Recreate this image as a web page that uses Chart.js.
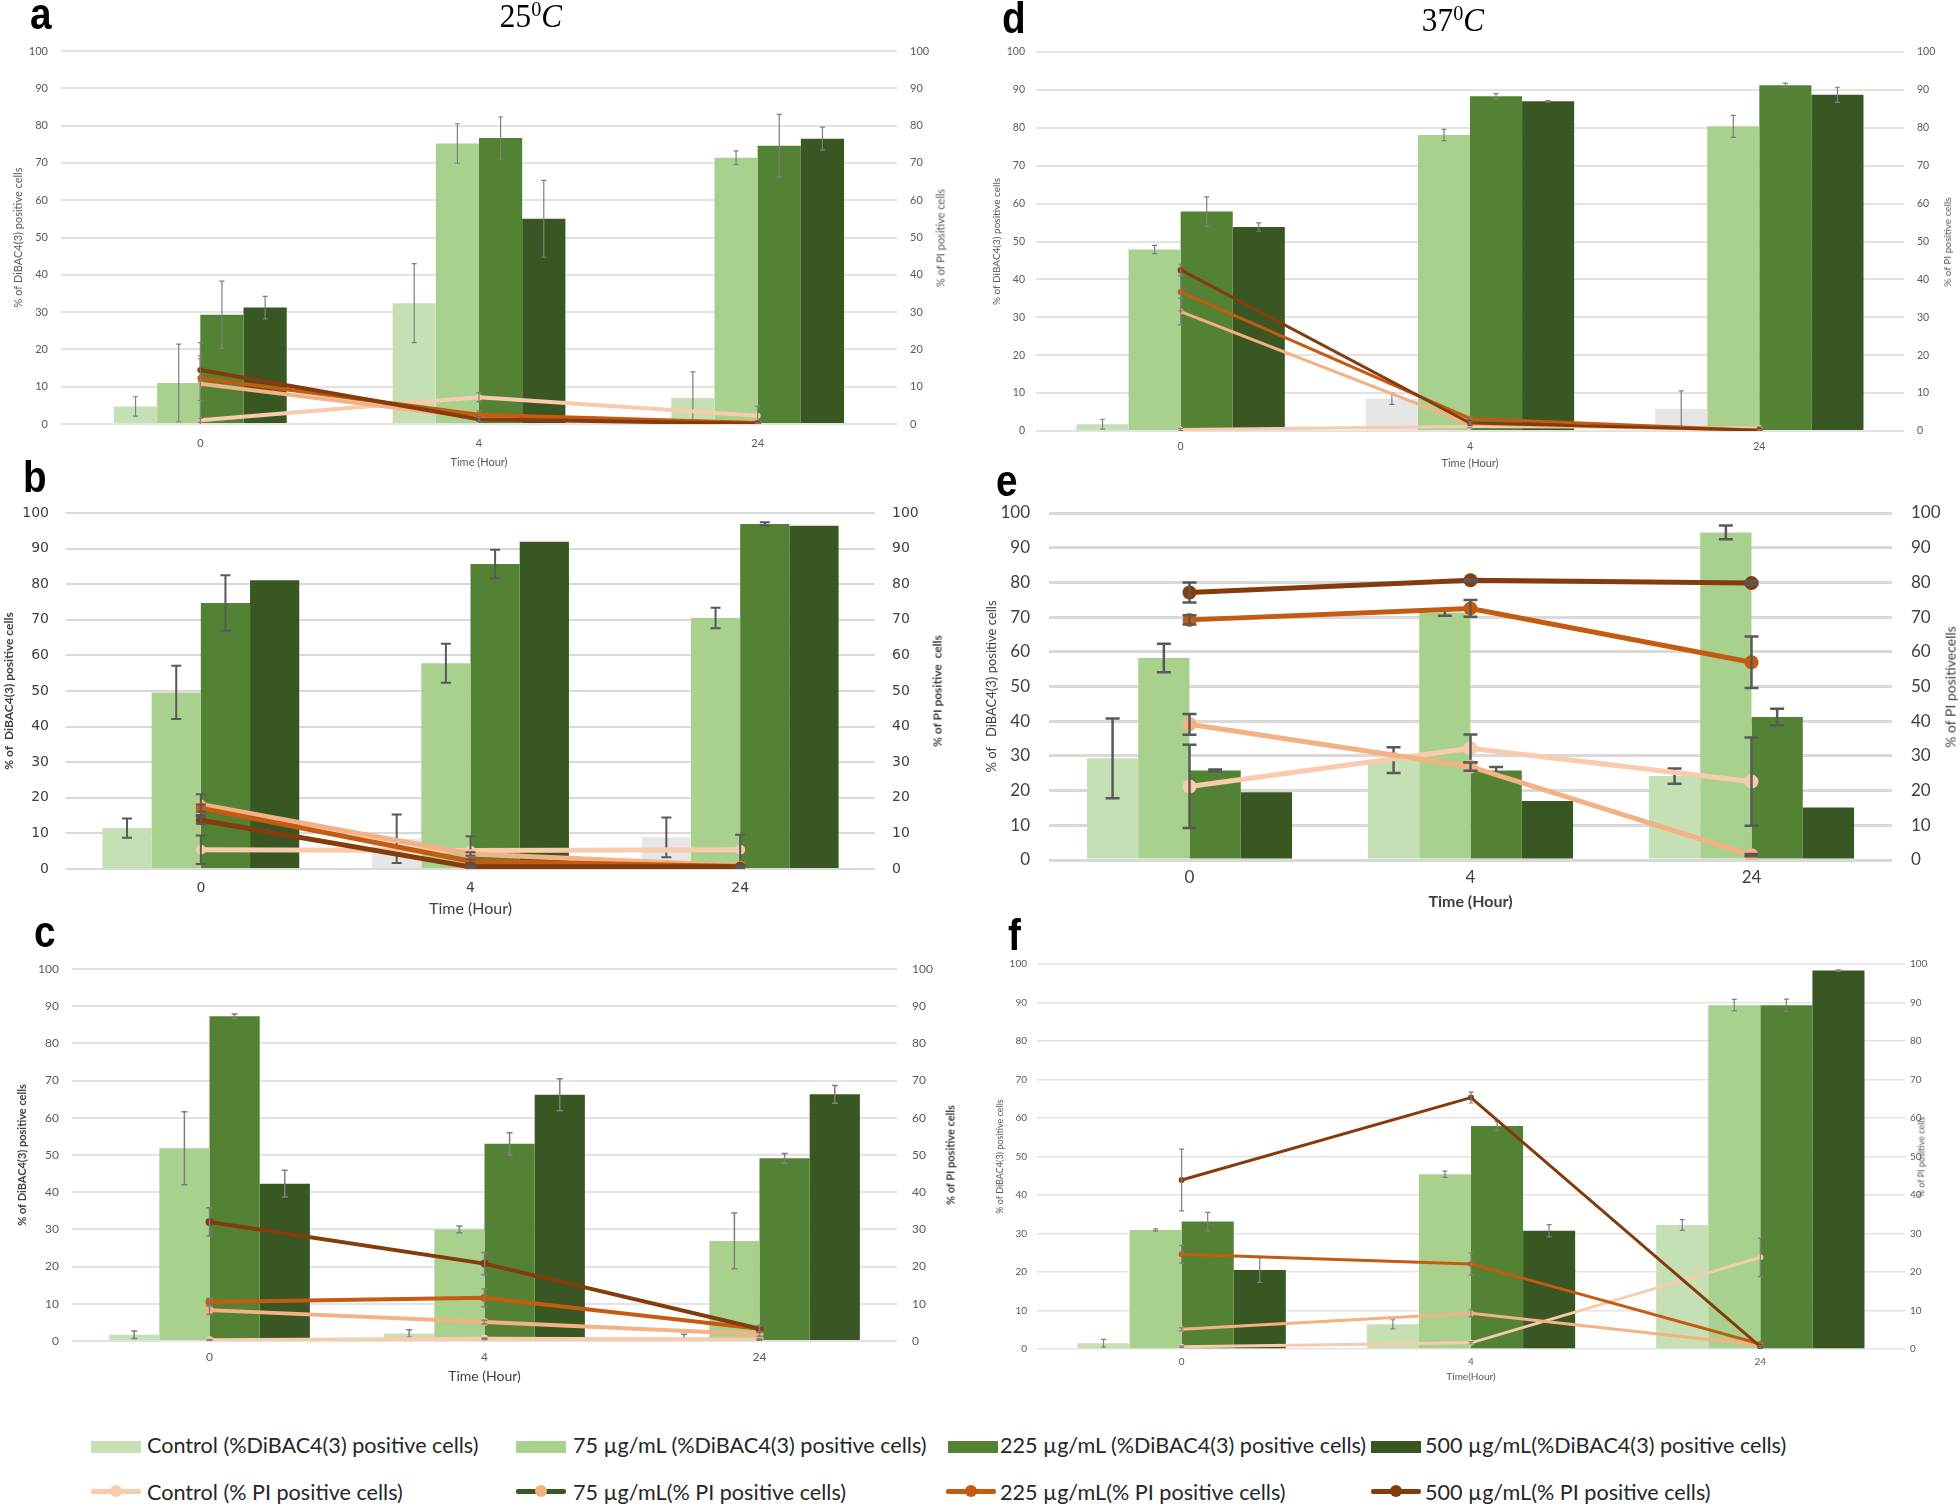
<!DOCTYPE html>
<html>
<head>
<meta charset="utf-8">
<script src="https://cdn.jsdelivr.net/npm/chart.js@4.4.1/dist/chart.umd.min.js"></script>
<style>
html,body{margin:0;padding:0;background:#fff;}
#root{position:relative;width:1960px;height:1504px;overflow:hidden;background:#fff;}
.letter{position:absolute;font-family:"Liberation Sans",Arial,sans-serif;font-weight:bold;font-size:44px;line-height:44px;color:#000;transform-origin:left top;transform:scaleX(0.88);}
.temp{position:absolute;font-family:"Liberation Serif","DejaVu Serif",serif;font-size:34px;line-height:34px;color:#000;white-space:nowrap;transform:translateX(-50%) scaleX(0.92);}
.temp sup{font-size:22px;vertical-align:11px;line-height:0;}
.rtitle{position:absolute;white-space:pre;transform:translate(-50%,-50%) rotate(-90deg);}
.lg-text{position:absolute;font-family:Lato,"Open Sans",sans-serif;font-size:21.6px;line-height:24px;color:#262626;white-space:pre;}
.lg-box{position:absolute;height:12px;width:50px;}
.lg-line{position:absolute;height:5px;width:50px;border-radius:2px;}
.lg-dot{position:absolute;width:12px;height:12px;border-radius:50%;}
</style>
</head>
<body>
<div id="root"></div>
<script>
// ---------------- DATA ----------------
const categories = ['0', '4', '24'];
const diLabels = ['Control (%DiBAC4(3) positive cells)', '75 µg/mL (%DiBAC4(3) positive cells)', '225 µg/mL (%DiBAC4(3) positive cells)', '500 µg/mL(%DiBAC4(3) positive cells)'];
const piLabels = ['Control (% PI positive cells)', '75 µg/mL(% PI positive cells)', '225 µg/mL(% PI positive cells)', '500 µg/mL(% PI positive cells)'];
const temperatureTitles = ['25', '37'];

// Panel a (25 °C)
const aDiBAC    = [[4.7, 32.4, 7.0], [11.0, 75.2, 71.4], [29.3, 76.7, 74.6], [31.2, 55.0, 76.5]];
const aDiBACErr = [[2.6, 10.6, 7.0], [10.4, 5.3, 1.8], [9.0, 5.6, 8.4], [3.0, 10.3, 3.1]];
const aPI       = [[1.0, 7.2, 2.2], [10.8, 1.6, 0.4], [12.3, 2.5, 0.3], [14.5, 1.3, 0.1]];
const aPIErr    = [[0.5, 1.2, 2.5], [11.0, 1.0, 0.5], [6.0, 1.0, 0.3], [3.0, 0.5, 0.2]];

// Panel b (25 °C)
const bDiBAC    = [[11.5, 8.5, 8.9], [49.6, 57.8, 70.5], [74.7, 85.7, 96.9], [81.1, 91.9, 96.4]];
const bDiBACErr = [[2.7, 6.8, 5.6], [7.5, 5.5, 2.9], [7.8, 4.0, 0.5], [0, 0, 0]];
const bPI       = [[5.4, 5.2, 5.4], [18.1, 4.2, 0.9], [17.1, 2.2, 0.7], [13.7, 0.6, 0.6]];
const bPIErr    = [[4.0, 4.0, 4.2], [2.9, 0.5, 0.3], [1.0, 0.5, 0.3], [1.0, 0.3, 0.3]];

// Panel c (25 °C)
const cDiBAC    = [[1.7, 2.0, 0.9], [51.8, 30.0, 26.9], [87.3, 53.0, 49.1], [42.3, 66.2, 66.3]];
const cDiBACErr = [[1.0, 1.0, 0.9], [9.8, 0.9, 7.5], [0.6, 3.0, 1.3], [3.6, 4.3, 2.4]];
const cPI       = [[0.2, 0.6, 0.4], [8.3, 5.1, 1.8], [10.5, 11.6, 3.3], [32.0, 20.8, 3.3]];
const cPIErr    = [[0.2, 0.2, 0.2], [1.2, 0.5, 0.5], [1.0, 2.4, 0.8], [3.8, 3.0, 0.8]];

// Panel d (37 °C)
const dDiBAC    = [[1.8, 8.5, 5.9], [47.9, 78.1, 80.4], [57.9, 88.3, 91.2], [53.8, 87.0, 88.7]];
const dDiBACErr = [[1.3, 1.5, 4.7], [1.1, 1.5, 2.9], [3.9, 0.7, 0.6], [1.1, 0.2, 2.0]];
const dPI       = [[0.4, 1.2, 0.8], [31.5, 1.8, 0.2], [36.7, 3.3, 0.2], [42.5, 2.1, 0.2]];
const dPIErr    = [[0.3, 0.3, 0.3], [3.5, 0.3, 0.2], [5.0, 0.5, 0.2], [1.5, 0.3, 0.2]];

// Panel e (37 °C)
const eDiBAC    = [[29.3, 28.8, 24.2], [58.2, 71.3, 94.4], [25.8, 25.8, 41.2], [19.5, 17.0, 15.1]];
const eDiBACErr = [[11.5, 3.7, 2.2], [4.1, 0.9, 2.0], [0.3, 1.0, 2.4], [0, 0, 0]];
const ePI       = [[21.2, 32.2, 22.6], [39.1, 26.9, 1.4], [69.2, 72.5, 57.0], [77.1, 80.6, 79.8]];
const ePIErr    = [[12.0, 4.0, 12.7], [3.0, 1.2, 0.3], [1.3, 2.4, 7.4], [2.9, 0.3, 0.5]];

// Panel f (37 °C)
const fDiBAC    = [[1.5, 6.4, 32.2], [30.9, 45.4, 89.3], [33.1, 57.9, 89.3], [20.5, 30.7, 98.3]];
const fDiBACErr = [[1.0, 1.2, 1.4], [0.3, 0.8, 1.5], [2.4, 1.2, 1.6], [3.2, 1.6, 0.2]];
const fPI       = [[0.6, 1.6, 23.8], [5.1, 9.3, 1.0], [24.6, 22.1, 1.3], [43.9, 65.3, 0.6]];
const fPIErr    = [[0.2, 0.3, 5.0], [0.4, 0.9, 0.3], [2.3, 2.9, 0.3], [8.0, 1.4, 0.3]];

// ---------------- STYLE ----------------
const BAR_COLORS = ['#c5e0b4', '#a9d18e', '#548235', '#385723'];
const GRAY_BAR = '#e7e6e6';
const LINE_COLORS = ['#f8cbad', '#f4b183', '#c55a11', '#843c0c'];

const panels = [
  { letter:'a', data:[aDiBAC, aDiBACErr, aPI, aPIErr], left:0, width:960, area:[61,51,897,424], cat:0.62, gray:null,
    tickFont:{family:'Lato', size:11}, tickColor:'#595959', padL:13, padR:13, xTickY:443,
    xTitle:'Time (Hour)', xTitleFont:{family:'Lato', size:11}, xTitleY:462,
    lTitle:'% of DiBAC4(3) positive cells', lTitleFont:{family:'Lato', size:11}, ltX:18, titleColor:'#595959',
    rTitle:'% of PI positive cells', rTitleCss:'font:11px Lato;color:#595959;', rtX:940,
    grid:{color:'#e3e3e3', width:2}, lineW:4, pointR:3, err:{color:'#7f7f7f', width:1.2, cap:2.5},
    letterPos:[30,-8] },
  { letter:'b', data:[bDiBAC, bDiBACErr, bPI, bPIErr], left:0, width:960, area:[66,513,875,869], cat:0.73, gray:[false,true,true],
    tickFont:{family:'DejaVu Sans', size:14}, tickColor:'#404040', padL:17, padR:17, xTickY:888,
    xTitle:'Time (Hour)', xTitleFont:{family:'Lato', size:16}, xTitleY:909,
    lTitle:'% of  DiBAC4(3) positive cells', lTitleFont:{family:'Lato', size:12, weight:'bold'}, ltX:9, titleColor:'#404040',
    rTitle:'% of PI positive  cells', rTitleCss:'font:bold 12px Lato;color:#404040;', rtX:937,
    grid:{color:'#d9d9d9', width:2}, lineW:5, pointR:5, err:{color:'#595959', width:2, cap:5},
    letterPos:[23,455] },
  { letter:'c', data:[cDiBAC, cDiBACErr, cPI, cPIErr], left:0, width:960, area:[72,969,897,1341], cat:0.73, gray:null,
    tickFont:{family:'Lato', size:12}, tickColor:'#595959', padL:13, padR:15, xTickY:1357,
    xTitle:'Time (Hour)', xTitleFont:{family:'Lato', size:14}, xTitleY:1376,
    lTitle:'% of DiBAC4(3) positive cells', lTitleFont:{family:'Lato', size:11, weight:'bold'}, ltX:22, titleColor:'#404040',
    rTitle:'% of PI positive cells', rTitleCss:'font:bold 11px Lato;color:#404040;', rtX:950,
    grid:{color:'#e3e3e3', width:2}, lineW:4, pointR:4, err:{color:'#7f7f7f', width:1.5, cap:3},
    letterPos:[34,910] },
  { letter:'d', data:[dDiBAC, dDiBACErr, dPI, dPIErr], left:975, width:985, area:[1036,52,1904,431], cat:0.72, gray:[false,true,true],
    tickFont:{family:'Lato', size:10.5}, tickColor:'#595959', padL:11, padR:13, xTickY:447,
    xTitle:'Time (Hour)', xTitleFont:{family:'Lato', size:11}, xTitleY:463,
    lTitle:'% of DiBAC4(3) positive cells', lTitleFont:{family:'Lato', size:10}, ltX:997, titleColor:'#595959',
    rTitle:'% of PI positive cells', rTitleCss:'font:10px Lato;color:#595959;', rtX:1947,
    grid:{color:'#e3e3e3', width:2}, lineW:3, pointR:3, err:{color:'#7f7f7f', width:1.2, cap:2.5},
    letterPos:[1002,-4] },
  { letter:'e', data:[eDiBAC, eDiBACErr, ePI, ePIErr], left:975, width:985, area:[1049,513,1892,860], cat:0.73, gray:null,
    tickFont:{family:'Lato', size:17}, tickColor:'#404040', padL:19, padR:19, xTickY:878,
    xTitle:'Time (Hour)', xTitleFont:{family:'Lato', size:16, weight:'bold'}, xTitleY:902,
    lTitle:'% of   DiBAC4(3) positive cells', lTitleFont:{family:'Lato', size:13}, ltX:992, titleColor:'#404040',
    rTitle:'% of PI positivecells', rTitleCss:'font:14px Lato;color:#404040;', rtX:1950,
    grid:{color:'#d9d9d9', width:3}, lineW:5, pointR:7, err:{color:'#595959', width:2.5, cap:7},
    letterPos:[996,459] },
  { letter:'f', data:[fDiBAC, fDiBACErr, fPI, fPIErr], left:975, width:985, area:[1037,964,1905,1349], cat:0.72, gray:null,
    tickFont:{family:'Lato', size:10}, tickColor:'#595959', padL:10, padR:5, xTickY:1362,
    xTitle:'Time(Hour)', xTitleFont:{family:'Lato', size:10}, xTitleY:1377,
    lTitle:'% of DiBAC4(3) positive cells', lTitleFont:{family:'Lato', size:9}, ltX:1000, titleColor:'#595959',
    rTitle:'% of PI positive cells', rTitleCss:'font:9px Lato;color:#595959;', rtX:1921,
    grid:{color:'#e3e3e3', width:1.5}, lineW:3, pointR:3, err:{color:'#7f7f7f', width:1.2, cap:2.5},
    letterPos:[1008,913] }
];

// ---------------- PLUGIN: error bars ----------------
const errPlugin = {
  id: 'errBars',
  afterDatasetDraw(chart, args, opts) {
    const ds = chart.data.datasets[args.index];
    if (!ds.errors) return;
    const meta = args.meta;
    const ys = chart.scales[meta.yAxisID];
    const ctx = chart.ctx;
    const area = chart.chartArea;
    ctx.save();
    ctx.beginPath();
    ctx.rect(area.left, area.top - 10, area.right - area.left, area.bottom - area.top + 10);
    ctx.clip();
    ctx.strokeStyle = opts.color;
    ctx.lineWidth = opts.width;
    meta.data.forEach((el, j) => {
      const e = ds.errors[j];
      if (!e) return;
      const v = ds.data[j];
      const x = el.x;
      const yTop = ys.getPixelForValue(v + e);
      const yBot = ys.getPixelForValue(v - e);
      ctx.beginPath();
      ctx.moveTo(x, yTop); ctx.lineTo(x, yBot);
      ctx.moveTo(x - opts.cap, yTop); ctx.lineTo(x + opts.cap, yTop);
      ctx.moveTo(x - opts.cap, yBot); ctx.lineTo(x + opts.cap, yBot);
      ctx.stroke();
    });
    ctx.restore();
  }
};

const root = document.getElementById('root');

function addDiv(cls, css, html) {
  const d = document.createElement('div');
  d.className = cls;
  d.style.cssText = css;
  d.innerHTML = html;
  root.appendChild(d);
  return d;
}

function makePanel(st) {
  const [di, diErr, pi, piErr] = st.data;
  const tickLH = st.tickFont.size * 1.2;
  const xtLH = st.xTitleFont.size * 1.2;
  const ltLH = st.lTitleFont.size * 1.2;
  const top = st.area[1] - 30;
  const bottom = Math.round(st.xTitleY + xtLH / 2 + 3);
  const height = bottom - top;
  const yLW = st.area[0] - st.left;
  const yRW = st.left + st.width - st.area[2];
  const xH = bottom - st.area[3];

  const cv = document.createElement('canvas');
  cv.width = st.width; cv.height = height;
  cv.style.cssText = `position:absolute;left:${st.left}px;top:${top}px;width:${st.width}px;height:${height}px;`;
  root.appendChild(cv);

  const datasets = [];
  for (let i = 0; i < 4; i++) {
    let bg = BAR_COLORS[i];
    if (i === 0 && st.gray) bg = st.gray.map(g => g ? GRAY_BAR : BAR_COLORS[0]);
    datasets.push({
      type: 'bar', label: diLabels[i], data: di[i], errors: diErr[i],
      backgroundColor: bg, borderWidth: 0, yAxisID: 'y', order: 10,
      barPercentage: 1.0, categoryPercentage: st.cat
    });
  }
  for (let i = 0; i < 4; i++) {
    datasets.push({
      type: 'line', label: piLabels[i], data: pi[i], errors: piErr[i],
      borderColor: LINE_COLORS[i], backgroundColor: LINE_COLORS[i],
      pointBackgroundColor: LINE_COLORS[i], pointBorderColor: LINE_COLORS[i],
      borderWidth: st.lineW, pointRadius: st.pointR, pointBorderWidth: 0,
      tension: 0, fill: false, yAxisID: 'y1', order: 4 - i
    });
  }

  new Chart(cv, {
    data: { labels: categories, datasets },
    plugins: [errPlugin],
    options: {
      responsive: false, animation: false, devicePixelRatio: 1,
      layout: { padding: { top: 30, left: 0, right: 0, bottom: 0 } },
      plugins: {
        legend: { display: false }, tooltip: { enabled: false },
        errBars: st.err
      },
      scales: {
        x: {
          type: 'category', offset: true,
          grid: { display: false, drawTicks: false }, border: { display: false },
          ticks: { color: st.tickColor, font: st.tickFont, padding: st.xTickY - st.area[3] - tickLH / 2 },
          title: { display: true, text: st.xTitle, color: st.titleColor, font: st.xTitleFont,
                   padding: { top: 0, bottom: bottom - st.xTitleY - xtLH / 2 } },
          afterFit(s) { s.height = xH; }
        },
        y: {
          position: 'left', min: 0, max: 100,
          ticks: { stepSize: 10, color: st.tickColor, font: st.tickFont, padding: st.padL },
          grid: { color: st.grid.color, lineWidth: st.grid.width, drawTicks: false }, border: { display: false },
          title: { display: true, text: st.lTitle, color: st.titleColor, font: st.lTitleFont,
                   padding: { top: st.ltX - st.left - ltLH / 2, bottom: 0 } },
          afterFit(s) { s.width = yLW; }
        },
        y1: {
          position: 'right', min: 0, max: 100,
          ticks: { stepSize: 10, color: st.tickColor, font: st.tickFont, padding: st.padR },
          grid: { display: false, drawTicks: false }, border: { display: false },
          afterFit(s) { s.width = yRW; }
        }
      }
    }
  });

  // right axis title (reads bottom-to-top like the reference)
  const cy = (st.area[1] + st.area[3]) / 2;
  addDiv('rtitle', `left:${st.rtX}px;top:${cy}px;${st.rTitleCss}`, '').textContent = st.rTitle;
  // panel letter
  addDiv('letter', `left:${st.letterPos[0]}px;top:${st.letterPos[1]}px;`, st.letter);
}

panels.forEach(makePanel);

// temperature titles
addDiv('temp', 'left:531px;top:-1px;', temperatureTitles[0] + '<sup>0</sup><i>C</i>');
addDiv('temp', 'left:1453px;top:3px;', temperatureTitles[1] + '<sup>0</sup><i>C</i>');

// ---------------- LEGEND ----------------
const legendX = [91, 516, 946, 1371];
const legendTextX = [147, 573, 1000, 1425];
for (let i = 0; i < 4; i++) {
  addDiv('lg-box', `left:${legendX[i] + (i === 2 ? 2 : 0)}px;top:1441px;background:${BAR_COLORS[i]};`, '');
  addDiv('lg-text', `left:${legendTextX[i]}px;top:1433px;`, '').textContent = diLabels[i];
  const lineColor = i === 1 ? '#385723' : LINE_COLORS[i];
  addDiv('lg-line', `left:${legendX[i]}px;top:1489px;background:${lineColor};`, '');
  addDiv('lg-dot', `left:${legendX[i] + 19}px;top:1485px;background:${LINE_COLORS[i]};`, '');
  addDiv('lg-text', `left:${legendTextX[i]}px;top:1480px;`, '').textContent = piLabels[i];
}
</script>
</body>
</html>
